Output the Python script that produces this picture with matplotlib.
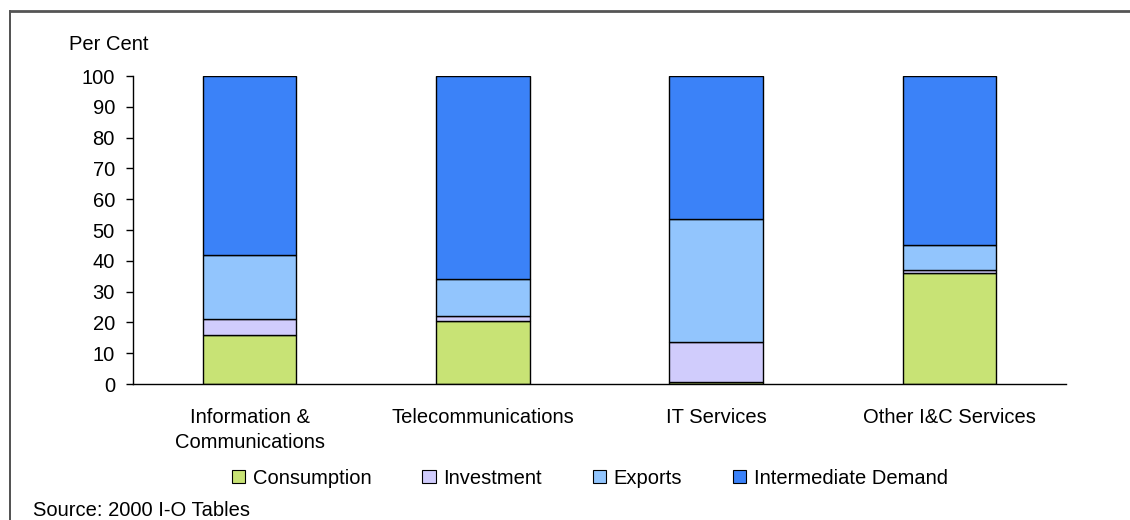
import matplotlib.pyplot as plt
from matplotlib.lines import Line2D
from matplotlib.patches import Patch

plt.rcParams["font.family"] = ["Liberation Sans", "DejaVu Sans"]
plt.rcParams["font.size"] = 14.5

categories = ["Information &\nCommunications", "Telecommunications", "IT Services",
              "Other I&C Services"]
series_names = ["Consumption", "Investment", "Exports", "Intermediate Demand"]
consumption = [16.0, 20.5, 0.7, 36.0]
investment = [5.0, 1.5, 13.0, 1.0]
exports = [21.0, 12.0, 40.0, 8.0]
intermediate = [58.0, 66.0, 46.3, 55.0]
colors = ["#C8E375", "#D0CCFC", "#92C5FD", "#3B82F8"]

fig = plt.figure(figsize=(11.3, 5.2), dpi=100)
ax = fig.add_axes([133 / 1130, 1 - 384 / 520, 933 / 1130, 308 / 520])

x = range(len(categories))
bottom = [0.0] * len(categories)
for vals, name, col in zip([consumption, investment, exports, intermediate],
                           series_names, colors):
    ax.bar(x, vals, width=0.4, bottom=bottom, color=col, edgecolor="black",
           linewidth=1.0, label=name)
    bottom = [b + v for b, v in zip(bottom, vals)]

ax.set_xlim(-0.5, len(categories) - 0.5)
ax.set_ylim(0, 100)
ax.set_yticks(range(0, 101, 10))
ax.set_xticks(list(x))
ax.set_xticklabels(categories, linespacing=1.45)
ax.tick_params(axis="x", length=0, pad=17)
ax.tick_params(axis="y", length=5, width=1, direction="out", pad=8)
for side in ["top", "right"]:
    ax.spines[side].set_visible(False)
ax.spines["left"].set_linewidth(1)
ax.spines["bottom"].set_linewidth(1)

fig.text(109 / 1130, 1 - 45 / 520, "Per Cent", ha="center", va="center")
fig.text(33 / 1130, 1 - 510 / 520, "Source: 2000 I-O Tables", ha="left", va="center")

handles = [Patch(facecolor=c, edgecolor="black", linewidth=0.8) for c in colors]
fig.legend(handles, series_names, loc="center", bbox_to_anchor=(590 / 1130, 1 - 478 / 520),
           ncol=4, frameon=False, handlelength=0.65, handleheight=0.65,
           handletextpad=0.4, columnspacing=2.5, borderpad=0, borderaxespad=0)

# figure frame (left and top edges)
fig.add_artist(Line2D([10 / 1130, 10 / 1130], [0, 1 - 10.5 / 520], color="#333333",
                      linewidth=1.2, transform=fig.transFigure))
fig.add_artist(Line2D([10 / 1130, 1], [1 - 10.5 / 520, 1 - 10.5 / 520], color="#555555",
                      linewidth=2, transform=fig.transFigure))

fig.savefig("out.png", dpi=100)
